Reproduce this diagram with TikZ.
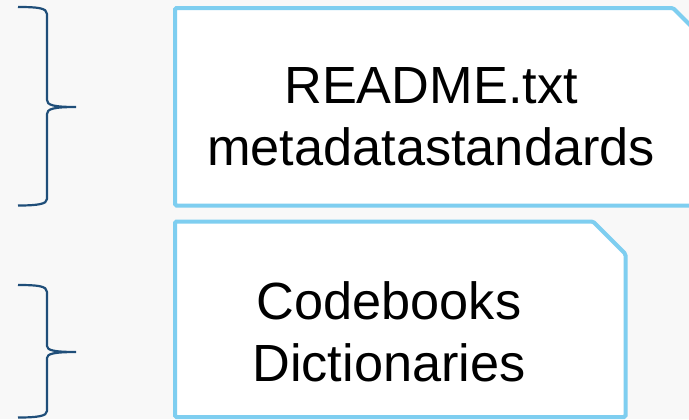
\documentclass[tikz,border=0pt]{standalone}
\usepackage{fontspec}
\setmainfont{Liberation Sans}
\definecolor{bg}{HTML}{F8F8F8}
\definecolor{boxline}{HTML}{7ECEF0}
\definecolor{bracecol}{HTML}{1F4E79}
\tikzset{
  docbox/.style={draw=boxline, line width=4bp, fill=white, rounded corners=1.5bp},
  bracepath/.style={draw=bracecol, line width=2.2bp, line cap=butt},
  boxtext/.style={align=center, inner sep=0pt, font=\fontsize{52.5}{62}\selectfont}
}
\begin{document}
\begin{tikzpicture}[x=1bp, y=-1bp]
\useasboundingbox (0,0) rectangle (689,419);
\fill[bg] (0,0) rectangle (689,419);
\begin{scope}
\clip (0,0) rectangle (689,419);
% box 1
\path[docbox] (175,8) -- (673,8) -- (706,41) -- (706,205.5) -- (175,205.5) -- cycle;
% box 2
\path[docbox] (175,221.5) -- (593,221.5) -- (625.5,254) -- (625.5,417) -- (175,417) -- cycle;
\end{scope}
\node[boxtext] (t1) at (431,117) {README.txt\\metadatastandards};
\node[boxtext] (t2) at (389,331.5) {Codebooks\\Dictionaries};
% braces
\path[bracepath] (18,7) .. controls (38,7) and (47,8) .. (47,14) -- (47,100)
  .. controls (47,105) and (53,107) .. (76,107)
  .. controls (53,107) and (47,109) .. (47,114) -- (47,199)
  .. controls (47,204) and (38,205.5) .. (18,205.5);
\path[bracepath] (18,285) .. controls (38,285) and (47,286) .. (47,292) -- (47,346)
  .. controls (47,350) and (53,352) .. (76,352)
  .. controls (53,352) and (47,354) .. (47,358) -- (47,411)
  .. controls (47,416) and (38,417.5) .. (18,417.5);
\end{tikzpicture}
\end{document}
